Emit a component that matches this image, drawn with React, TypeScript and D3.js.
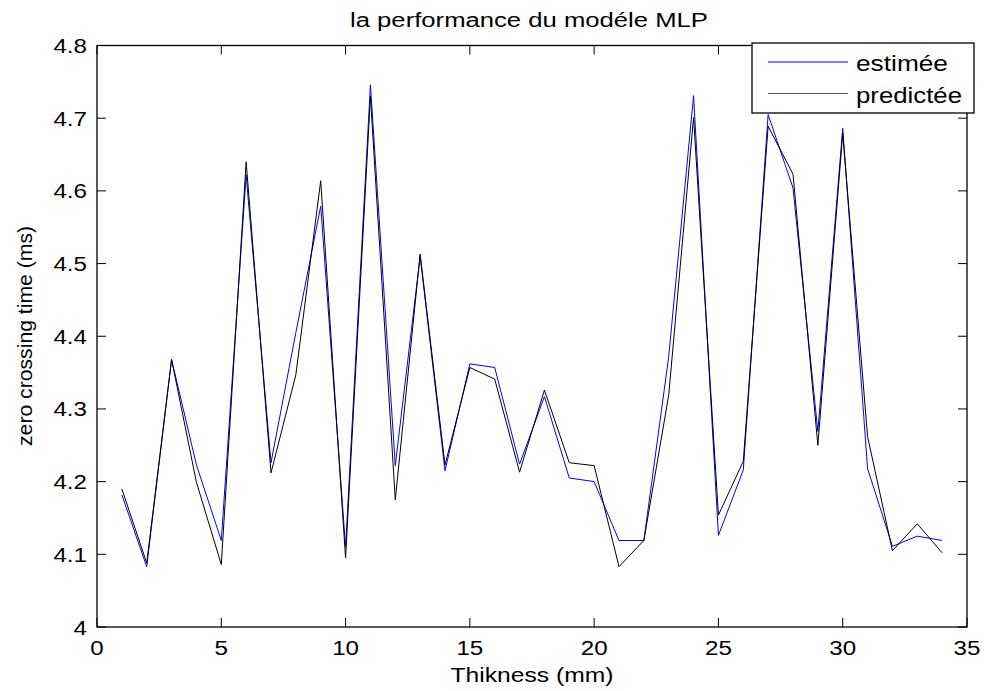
import React from "react";
import * as d3 from "d3";

const thickness = [1,2,3,4,5,6,7,8,9,10,11,12,13,14,15,16,17,18,19,20,21,22,23,24,25,26,27,28,29,30,31,32,33,34];
const estimee = [4.182,4.083,4.368,4.223,4.119,4.622,4.226,4.405,4.579,4.110,4.746,4.222,4.510,4.215,4.362,4.357,4.224,4.317,4.205,4.200,4.119,4.119,4.372,4.731,4.126,4.216,4.705,4.604,4.269,4.686,4.218,4.111,4.125,4.119];
const predictee = [4.190,4.088,4.368,4.199,4.086,4.640,4.212,4.347,4.614,4.095,4.730,4.175,4.513,4.223,4.357,4.341,4.213,4.326,4.226,4.222,4.083,4.119,4.319,4.701,4.154,4.228,4.689,4.623,4.250,4.679,4.262,4.105,4.142,4.102];
const xTicks = [0,5,10,15,20,25,30,35];
const yTicks = [4,4.1,4.2,4.3,4.4,4.5,4.6,4.7,4.8];
const seriesNames = ["estimée", "predictée"];
const seriesColors = ["#0000ff", "#000000"];
const legendWidths = [92, 106];

const W = 989, H = 691;
const L = 97, R = 967, T = 45.5, B = 627;
const FONT = "'Liberation Sans', Arial, Helvetica, sans-serif";
const SX = 1.15;

export default function App() {
  const x = d3.scaleLinear().domain([0, 35]).range([L, R]);
  const y = d3.scaleLinear().domain([4, 4.8]).range([B, T]);
  const line = d3.line<number>().x((_, i) => x(thickness[i])).y(d => y(d));
  const series = [estimee, predictee];
  const tl = 9;
  return (
    <svg width={W} height={H} style={{ position: "absolute", left: 0, top: 0, background: "#fff" }} fontFamily={FONT}>
      <rect x={0} y={0} width={W} height={H} fill="#fff" />
      {series.map((s, k) => (
        <path key={k} d={line(s) || ""} fill="none" stroke={seriesColors[k]} strokeWidth={1} />
      ))}
      <rect x={L} y={T} width={R - L} height={B - T} fill="none" stroke="#000" strokeWidth={1.3} />
      {xTicks.map(t => (
        <g key={"x" + t}>
          <line x1={x(t)} x2={x(t)} y1={B} y2={B - tl} stroke="#000" strokeWidth={1} />
          <line x1={x(t)} x2={x(t)} y1={T} y2={T + tl} stroke="#000" strokeWidth={1} />
          <text transform={`translate(${x(t)},655) scale(${SX},1)`} textAnchor="middle" fontSize={21}>{t}</text>
        </g>
      ))}
      {yTicks.map(t => (
        <g key={"y" + t}>
          <line x1={L} x2={L + tl} y1={y(t)} y2={y(t)} stroke="#000" strokeWidth={1} />
          <line x1={R} x2={R - tl} y1={y(t)} y2={y(t)} stroke="#000" strokeWidth={1} />
          <text transform={`translate(87,${y(t) + 7.5}) scale(${SX},1)`} textAnchor="end" fontSize={21}>{d3.format("")(t)}</text>
        </g>
      ))}
      <text x={529} y={27} textAnchor="middle" fontSize={20} textLength={358} lengthAdjust="spacingAndGlyphs">la performance du modéle MLP</text>
      <text x={532} y={682} textAnchor="middle" fontSize={21} textLength={163} lengthAdjust="spacingAndGlyphs">Thikness (mm)</text>
      <text transform={`translate(32,336) rotate(-90)`} textAnchor="middle" fontSize={20} textLength={220} lengthAdjust="spacingAndGlyphs">zero crossing time (ms)</text>
      <g>
        <rect x={752} y={43} width={222} height={70} fill="#fff" stroke="#000" strokeWidth={1.3} />
        {seriesNames.map((n, k) => (
          <g key={n}>
            <line x1={768} x2={848} y1={62 + k * 31.5} y2={62 + k * 31.5} stroke={k === 0 ? seriesColors[0] : "#555"} strokeWidth={1} />
            <text x={856} y={71 + k * 31.5} fontSize={22} textLength={legendWidths[k]} lengthAdjust="spacingAndGlyphs">{n}</text>
          </g>
        ))}
      </g>
    </svg>
  );
}
